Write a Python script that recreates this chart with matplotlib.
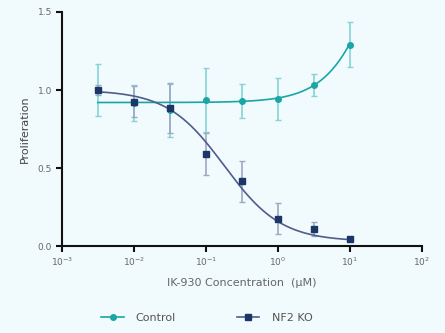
import numpy as np
import matplotlib
matplotlib.use("Agg")
import matplotlib.pyplot as plt

# concentrations (uM)
conc = [0.00316, 0.01, 0.0316, 0.1, 0.316, 1.0, 3.16, 10.0]

control_mean = [1.00, 0.915, 0.87, 0.935, 0.93, 0.94, 1.03, 1.29]
control_err = [0.165, 0.115, 0.17, 0.205, 0.11, 0.135, 0.07, 0.145]

nf2_mean = [1.00, 0.925, 0.885, 0.59, 0.415, 0.175, 0.11, 0.047]
nf2_err = [0.03, 0.10, 0.16, 0.135, 0.13, 0.10, 0.045, 0.01]

# 4PL fit parameters: bottom, top, EC50, hill
control_fit = (0.92, 3.0, 35.0, 1.2)
nf2_fit = (0.03, 1.0, 0.18, -1.1)

bg = "#f1fafc"
teal = "#1aa6a6"
teal_err = "#86d4d4"
navy = "#1b3768"
navy_err = "#9ea9c2"
navy_line = "#4f5d8c"
txt = "#666666"


def four_pl(x, bottom, top, ec50, hill):
    return bottom + (top - bottom) / (1 + (ec50 / x) ** hill)


fig = plt.figure(figsize=(4.45, 3.33), dpi=100, facecolor=bg)
ax = fig.add_axes([0.139, 0.261, 0.809, 0.703], facecolor=bg)

xs = np.logspace(np.log10(conc[0]), np.log10(conc[-1]), 200)
ax.plot(xs, four_pl(xs, *control_fit), color=teal, lw=1.2, zorder=3)
ax.plot(xs, four_pl(xs, *nf2_fit), color=navy_line, lw=1.2, zorder=3)

ax.errorbar(conc, control_mean, yerr=control_err, fmt="none", ecolor=teal_err,
            elinewidth=1.2, capsize=2.5, capthick=1, zorder=2)
ax.errorbar(conc, nf2_mean, yerr=nf2_err, fmt="none", ecolor=navy_err,
            elinewidth=1.2, capsize=2.5, capthick=1, zorder=2)
ax.plot(conc, control_mean, "o", color=teal, ms=4, zorder=4)
ax.plot(conc, nf2_mean, "s", color=navy, ms=4, zorder=5)

ax.set_xscale("log")
ax.set_xlim(1e-3, 1e2)
ax.set_ylim(0, 1.5)
ax.set_xticks([1e-3, 1e-2, 1e-1, 1e0, 1e1, 1e2])
ax.set_xticklabels([r"$10^{-3}$", r"$10^{-2}$", r"$10^{-1}$", r"$10^{0}$",
                    r"$10^{1}$", r"$10^{2}$"])
ax.xaxis.set_minor_locator(matplotlib.ticker.NullLocator())
ax.set_yticks([0, 0.5, 1.0, 1.5])
ax.set_yticklabels(["0.0", "0.5", "1.0", "1.5"])

for s in ["top", "right"]:
    ax.spines[s].set_visible(False)
for s in ["left", "bottom"]:
    ax.spines[s].set_linewidth(1.5)
    ax.spines[s].set_color("#111111")
ax.tick_params(direction="out", length=4, width=1.5, color="#111111",
               labelsize=6.5, labelcolor=txt, pad=3)

ax.set_xlabel("IK-930 Concentration  (\u00b5M)", fontsize=8, color=txt, labelpad=7)
ax.set_ylabel("Proliferation", fontsize=8, color="#444444", labelpad=6)

h1, = ax.plot([], [], "-o", color=teal, ms=4, lw=1.2)
h2, = ax.plot([], [], "-s", color=navy_line, mfc=navy, mec=navy, ms=4, lw=1.2)
leg = fig.legend([h1, h2], ["Control", "NF2 KO"], loc="center", ncol=2,
                 bbox_to_anchor=(0.465, 0.045), frameon=False, fontsize=8,
                 handlelength=2.0, columnspacing=5.5, handletextpad=1.1)
for t in leg.get_texts():
    t.set_color("#555555")

fig.savefig("out.png", dpi=100, facecolor=bg)
